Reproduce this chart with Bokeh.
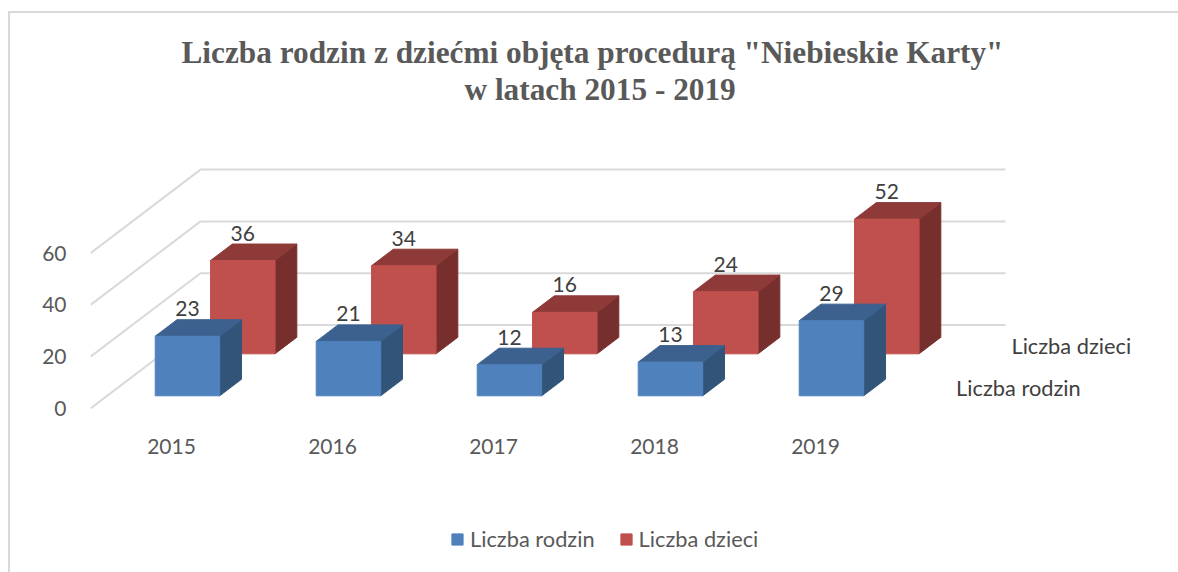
from bokeh.embed import file_html
from bokeh.resources import INLINE
from bokeh.plotting import figure
from bokeh.models import (Range1d, FixedTicker, Legend, LegendItem, Label, Title,
                          ColumnDataSource)
from bokeh.core.properties import value

years = ["2015", "2016", "2017", "2018", "2019"]
liczba_rodzin = [23, 21, 12, 13, 29]
liczba_dzieci = [36, 34, 16, 24, 52]
y_ticks = [0, 20, 40, 60]
TITLE_LINES = ['Liczba rodzin z dziećmi objęta procedurą "Niebieskie Karty"', "w latach 2015 - 2019"]

# scale: page px per data unit, and where the front plane sits
PX_X, PX_Y = 161.0, 2.59
W, H = 1178, 572
F_L, F_R, F_T, F_B = 90, W, 106, H           # frame in page px
X0_PX, Y0_PX = 171.0, 408.0                  # page px of category 0 / value 0 on the front plane
DEPTH_X, DEPTH_Y = 110 / PX_X, 83.5 / PX_Y   # the full floor depth in data units
BAR_W = 64.5 / PX_X
GREY = "#d9d9d9"

p = figure(width=W, height=H, output_backend="svg", toolbar_location=None,
           x_range=Range1d((F_L - X0_PX) / PX_X, (F_R - X0_PX) / PX_X),
           y_range=Range1d((Y0_PX - F_B) / PX_Y, (Y0_PX - F_T) / PX_Y),
           min_border_left=F_L, min_border_right=W - F_R, min_border_top=F_T, min_border_bottom=0,
           background_fill_alpha=0, border_fill_alpha=0, outline_line_color=None,
           styles={"background":
                   f"linear-gradient({GREY},{GREY}) 8px 11px/100% 2px no-repeat,"
                   f"linear-gradient({GREY},{GREY}) 8px 11px/2px 100% no-repeat"})
p.grid.visible = False

for text, off in zip(reversed(TITLE_LINES), (374, 91)):
    p.add_layout(Title(text=text, align="left", offset=off, text_font="Liberation Serif",
                       text_font_style="bold", text_font_size="31.3px", text_color="#595959",
                       standoff=0), "above")

for ax in (p.xaxis[0], p.yaxis[0]):
    ax.axis_line_color = None
    ax.major_tick_line_color = None
    ax.minor_tick_line_color = None
    ax.major_label_text_font = "Lato"
    ax.major_label_text_font_size = "21px"
    ax.major_label_text_color = "#595959"
p.yaxis[0].ticker = FixedTicker(ticks=y_ticks)
p.yaxis[0].major_label_standoff = 18
p.xaxis[0].ticker = FixedTicker(ticks=list(range(len(years))))
p.xaxis[0].major_label_overrides = {i: y for i, y in enumerate(years)}
p.xaxis[0].major_label_standoff = 7
p.xaxis[0].fixed_location = (Y0_PX - 425) / PX_Y

# wall gridlines
xs, ys = [], []
for t in y_ticks:
    xs.append([(F_L - X0_PX) / PX_X, (F_L - X0_PX) / PX_X + DEPTH_X, (1005 - X0_PX) / PX_X])
    ys.append([t, t + DEPTH_Y, t + DEPTH_Y])
p.multi_line(xs, ys, line_color=GREY, line_width=2)


def bars(vals, d0, d1, x_off, front, top, side):
    f, t, s = ([], []), ([], []), ([], [])
    for i, v in enumerate(vals):
        xl = i + x_off + d0 * DEPTH_X
        xr = xl + BAR_W
        dx = (d1 - d0) * DEPTH_X
        y0 = d0 * DEPTH_Y
        y1 = v + y0
        dy = (d1 - d0) * DEPTH_Y
        f[0].append([xl, xr, xr, xl]); f[1].append([y0, y0, y1, y1])
        t[0].append([xl, xr, xr + dx, xl + dx]); t[1].append([y1, y1, y1 + dy, y1 + dy])
        s[0].append([xr, xr + dx, xr + dx, xr]); s[1].append([y0, y0 + dy, y1 + dy, y1])
    p.patches(s[0], s[1], fill_color=side, line_color=side, line_width=1)
    p.patches(t[0], t[1], fill_color=top, line_color=top, line_width=1)
    r = p.patches(f[0], f[1], fill_color=front, line_color=front, line_width=1)
    src = ColumnDataSource(dict(x=[i + x_off + d0 * DEPTH_X + BAR_W / 2 for i in range(len(vals))],
                                y=[v + d1 * DEPTH_Y for v in vals],
                                t=[str(v) for v in vals]))
    return r, src


D_B = (0.152, 0.35)
D_R = (0.655, 0.853)
X_OFF = -0.205
r_red, s_red = bars(liczba_dzieci, *D_R, X_OFF, "#c0504d", "#8e3a38", "#772f2d")
r_blue, s_blue = bars(liczba_rodzin, *D_B, X_OFF, "#4f81bd", "#3c618f", "#325479")

for s in (s_red, s_blue):
    p.text("x", "y", text="t", source=s, text_align="center", text_baseline="middle", y_offset=-11,
           text_font=value("Lato"), text_font_size="21px", text_color="#404040")

# depth axis labels
for name, d in (("Liczba rodzin", sum(D_B) / 2), ("Liczba dzieci", sum(D_R) / 2)):
    p.add_layout(Label(x=(928 - X0_PX) / PX_X + d * DEPTH_X, y=d * DEPTH_Y, text=name,
                       text_font="Lato", text_font_size="21.8px", text_color="#404040",
                       text_baseline="middle", text_align="left"))

legend = Legend(items=[LegendItem(label="Liczba rodzin", renderers=[r_blue]),
                       LegendItem(label="Liczba dzieci", renderers=[r_red])],
                orientation="horizontal", location=(360, 20), border_line_color=None,
                background_fill_alpha=0, glyph_width=14, glyph_height=14, label_standoff=6,
                spacing=24, label_text_font="Lato", label_text_font_size="21.8px",
                label_text_color="#595959", margin=0, padding=0)
p.add_layout(legend, "center")

open("out.html", "w").write(file_html(p, INLINE))
